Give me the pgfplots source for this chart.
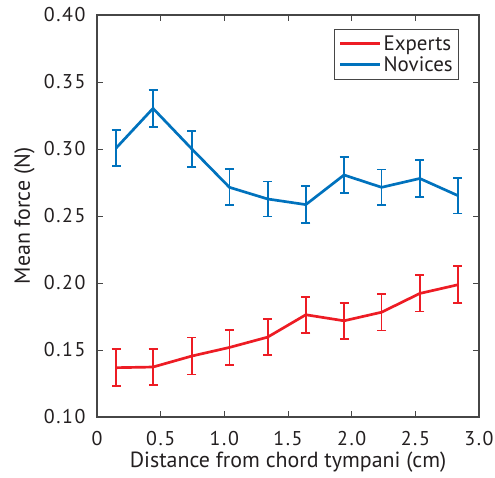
\documentclass[border=0pt]{standalone}
\usepackage{pgfplots}
\pgfplotsset{compat=1.18}
\usepackage{fontspec}
\setmainfont{PT Sans}
\newfontfamily\tickfont[LetterSpace=8]{PT Sans}
\definecolor{cred}{RGB}{237,28,36}
\definecolor{cblue}{RGB}{0,114,189}
\definecolor{axgray}{RGB}{70,70,70}
\definecolor{txt}{RGB}{35,31,32}
\begin{document}
\begin{tikzpicture}
\begin{axis}[
  scale only axis,
  width=382bp, height=402bp,
  xmin=0, xmax=3, ymin=0.10, ymax=0.40,
  xtick={0,0.5,1,1.5,2,2.5,3},
  xticklabels={0,0.5,1.0,1.5,2.0,2.5,3.0},
  ytick={0.10,0.15,0.20,0.25,0.30,0.35,0.40},
  yticklabels={0.10,0.15,0.20,0.25,0.30,0.35,0.40},
  tick align=inside,
  major tick length=6bp,
  axis line style={axgray, line width=1.2pt},
  every tick/.style={axgray, line width=1pt},
  tick label style={font=\tickfont\fontsize{20}{22}\selectfont, text=txt},
  xticklabel style={yshift=-11bp},
  yticklabel style={xshift=-8bp},
  label style={font=\fontsize{22}{24}\selectfont, text=txt},
  xlabel={Distance from chord tympani (cm)},
  ylabel={Mean force (N)},
  xlabel style={at={(axis description cs:0.5,-0.112)}, anchor=center},
  ylabel style={at={(axis description cs:-0.19,0.5)}, anchor=center},
  legend style={at={(0.948,0.965)}, anchor=north east, draw=axgray, line width=0.8pt,
    font=\fontsize{21}{23}\selectfont, text=txt, inner xsep=4pt, inner ysep=4pt, row sep=1pt},
  legend cell align=left,
  legend image code/.code={\draw[line width=3pt] (0bp,0bp) -- (40bp,0bp);},
  error bars/error bar style={line width=1.8pt},
  error bars/error mark options={rotate=90, mark size=4.5bp, line width=1.8pt},
]
\addplot[cred, line width=2.7pt, no marks,
  error bars/.cd, y dir=both, y explicit]
  table[x=x, y=y, y error=e] {
x y e
0.15 0.1368 0.0137
0.44 0.1373 0.0136
0.745 0.1455 0.0138
1.04 0.1519 0.0131
1.34 0.1596 0.0134
1.64 0.1763 0.0134
1.94 0.1718 0.0133
2.235 0.1782 0.0136
2.535 0.1922 0.0135
2.835 0.1987 0.0138
};
\addlegendentry{Experts}
\addplot[cblue, line width=2.7pt, no marks,
  error bars/.cd, y dir=both, y explicit]
  table[x=x, y=y, y error=e] {
x y e
0.15 0.3007 0.0135
0.44 0.3303 0.0138
0.745 0.3000 0.0135
1.04 0.2714 0.0134
1.34 0.2627 0.0131
1.64 0.2585 0.0137
1.94 0.2806 0.0137
2.235 0.2714 0.0133
2.535 0.2780 0.0137
2.835 0.2652 0.0134
};
\addlegendentry{Novices}
\end{axis}
\pgfresetboundingbox
\path (current axis.south west) ++(-97bp,-61bp) coordinate (A);
\path (current axis.north east) ++(16bp,15bp) coordinate (B);
\useasboundingbox (A) rectangle (B);
\end{tikzpicture}
\end{document}
